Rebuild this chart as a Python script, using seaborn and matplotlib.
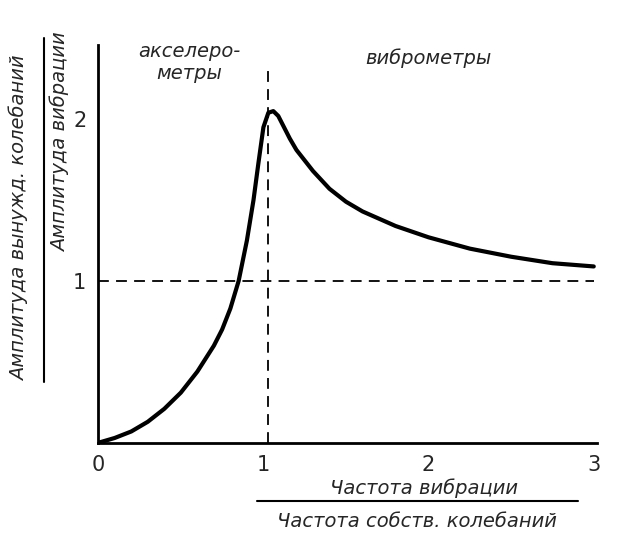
import matplotlib
matplotlib.use("Agg")
import matplotlib.pyplot as plt
import seaborn as sns
import pandas as pd

sns.set_style("white")
plt.rcParams['font.family'] = ['DejaVu Sans']

freq_ratio = [0, 0.1, 0.2, 0.3, 0.4, 0.5, 0.6, 0.7, 0.75, 0.8, 0.85, 0.9, 0.94, 0.97, 1.0, 1.03, 1.06, 1.09, 1.12, 1.16, 1.2, 1.3, 1.4, 1.5, 1.6, 1.8, 2.0, 2.25, 2.5, 2.75, 3.0]
amp_ratio  = [0, 0.03, 0.07, 0.13, 0.21, 0.31, 0.44, 0.6, 0.7, 0.83, 1.0, 1.25, 1.5, 1.73, 1.95, 2.04, 2.05, 2.02, 1.96, 1.88, 1.81, 1.68, 1.57, 1.49, 1.43, 1.34, 1.27, 1.2, 1.15, 1.11, 1.09]
xticks = [0, 1, 2, 3]
yticks = [1, 2]

df = pd.DataFrame({"x": freq_ratio, "y": amp_ratio})
fig = plt.figure(figsize=(6.42, 5.46), dpi=100)
ax = fig.add_axes([0.153, 0.189, 0.777, 0.729])
sns.lineplot(data=df, x="x", y="y", ax=ax, color="black", linewidth=3)
ax.plot([0, 3.0], [1, 1], ls=(0, (6, 4)), color="black", lw=1.3)
ax.plot([1.03, 1.03], [0, 2.3], ls=(0, (6, 4)), color="black", lw=1.3)
ax.set_xlim(0, 3.02)
ax.set_ylim(0, 2.46)
ax.set_xticks(xticks)
ax.set_yticks(yticks)
ax.tick_params(direction="out", length=5, width=1.5, labelsize=15)
for s in ["top", "right"]:
    ax.spines[s].set_visible(False)
for s in ["left", "bottom"]:
    ax.spines[s].set_linewidth(2)
    ax.spines[s].set_color("black")
ax.set_xlabel("")
ax.set_ylabel("")
ax.text(0.55, 2.35, "акселеро-\nметры", fontsize=14, style="italic", ha="center", va="center")
ax.text(2.0, 2.38, "виброметры", fontsize=14, style="italic", ha="center", va="center")
fig.text(0.66, 0.095, "Частота вибрации", fontsize=14, style="italic", ha="center")
fig.lines.append(plt.Line2D([0.4, 0.9], [0.083, 0.083], transform=fig.transFigure, color="black", lw=1.5))
fig.text(0.65, 0.035, "Частота собств. колебаний", fontsize=14, style="italic", ha="center")
fig.text(0.015, 0.6, "Амплитуда вынужд. колебаний", fontsize=14, style="italic", rotation=90, va="center")
fig.lines.append(plt.Line2D([0.068, 0.068], [0.3, 0.93], transform=fig.transFigure, color="black", lw=1.5))
fig.text(0.078, 0.74, "Амплитуда вибрации", fontsize=14, style="italic", rotation=90, va="center")
fig.savefig("out.png", dpi=100)
